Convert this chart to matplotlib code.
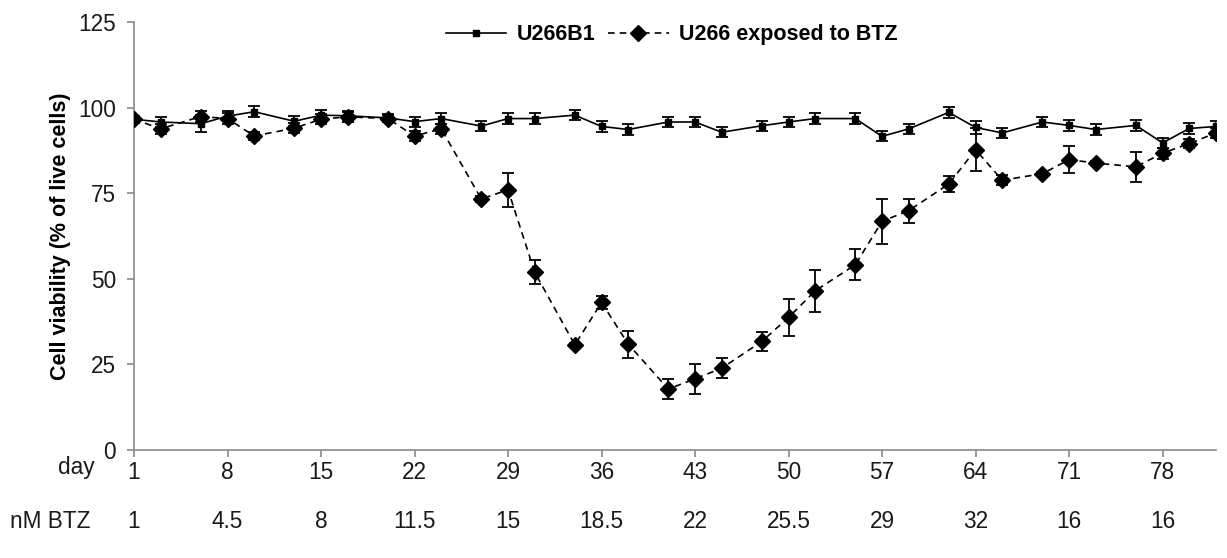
import matplotlib.pyplot as plt
from matplotlib.transforms import blended_transform_factory

plt.rcParams["font.family"] = ["Liberation Sans", "DejaVu Sans"]

DAYS = [1, 3, 6, 8, 10, 13, 15, 17, 20, 22, 24, 27, 29, 31, 34, 36, 38, 41,
        43, 45, 48, 50, 52, 55, 57, 59, 62, 64, 66, 69, 71, 73, 76, 78, 80, 82]

U266B1 = [96.6, 95.8, 95.3, 97.5, 98.8, 96.0, 97.8, 97.6, 97.0, 95.9, 96.8, 94.6,
          96.8, 96.8, 97.8, 94.5, 93.6, 95.8, 95.8, 92.8, 94.7, 95.8, 96.8, 96.8,
          91.6, 93.8, 98.6, 94.2, 92.6, 95.8, 94.8, 93.6, 94.8, 89.7, 93.9, 94.5]
U266B1_ERR = [1.0, 1.5, 2.5, 1.5, 1.6, 1.5, 1.5, 1.5, 1.2, 1.5, 1.5, 1.5,
              1.5, 1.5, 1.5, 1.5, 1.5, 1.5, 1.5, 1.5, 1.5, 1.5, 1.5, 1.5,
              1.5, 1.5, 1.5, 1.8, 1.5, 1.5, 1.5, 1.5, 1.5, 1.5, 1.5, 1.5]

BTZ = [96.6, 93.8, 97.4, 96.8, 91.7, 94.0, 96.6, 97.3, 96.8, 91.7, 93.8, 73.3,
       76.0, 51.9, 30.7, 43.1, 30.9, 17.8, 20.8, 23.9, 31.7, 38.7, 46.5, 54.1,
       66.8, 69.9, 77.7, 87.7, 78.8, 80.7, 84.8, 83.8, 82.7, 86.7, 89.5, 92.6]
BTZ_ERR = [1.0, 1.5, 1.5, 1.5, 1.2, 1.5, 1.5, 1.5, 1.0, 1.5, 1.5, 1.0,
           5.0, 3.5, 0.5, 1.9, 4.0, 2.8, 4.4, 3.0, 2.9, 5.4, 6.1, 4.5,
           6.5, 3.5, 2.3, 6.2, 1.5, 0.5, 4.0, 0.5, 4.3, 1.6, 1.2, 1.5]

TICK_DAYS = [1, 8, 15, 22, 29, 36, 43, 50, 57, 64, 71, 78]
NM_BTZ = ["1", "4.5", "8", "11.5", "15", "18.5", "22", "25.5", "29", "32", "16", "16"]

FS = 16.3
SPINE = "#8a8a8a"
TEXT = "#1a1a1a"

fig = plt.figure(figsize=(12.27, 5.58), dpi=100)
ax = fig.add_axes([134 / 1227, 1 - 450 / 558, (1216 - 134) / 1227, (450 - 22) / 558])

# error bars drawn on their own so the legend keeps plain line handles
ax.errorbar(DAYS, U266B1, yerr=U266B1_ERR, fmt="none", ecolor="black",
            capsize=4.5, capthick=1.3, elinewidth=1.3, zorder=3)
ax.errorbar(DAYS, BTZ, yerr=BTZ_ERR, fmt="none", ecolor="black",
            capsize=4.5, capthick=1.3, elinewidth=1.3, zorder=4)
ax.plot(DAYS, U266B1, color="black", lw=1.2, marker="s", ms=4.5,
        label="U266B1", zorder=3)
ax.plot(DAYS, BTZ, color="black", lw=1.2, ls=(0, (4, 3)), marker="D", ms=8,
        label="U266 exposed to BTZ", zorder=4)

ax.set_xlim(1, 82)
ax.set_ylim(0, 125)
ax.set_yticks([0, 25, 50, 75, 100, 125])
ax.set_xticks(TICK_DAYS)
ax.set_xticklabels([str(d) for d in TICK_DAYS])
ax.tick_params(axis="both", labelsize=FS, color=SPINE, width=1.2, length=5,
               labelcolor=TEXT)
ax.tick_params(axis="y", pad=8)
ax.tick_params(axis="x", pad=3)
for side in ("top", "right"):
    ax.spines[side].set_visible(False)
for side in ("left", "bottom"):
    ax.spines[side].set_color(SPINE)
    ax.spines[side].set_linewidth(1.2)

ax.set_ylabel("Cell viability (% of live cells)", fontsize=15.5, fontweight="bold", labelpad=5)

trans = blended_transform_factory(ax.transData, ax.transAxes)
for d, nm in zip(TICK_DAYS, NM_BTZ):
    ax.text(d, -0.168, nm, transform=trans, ha="center", va="center",
            fontsize=FS, color=TEXT)
ax.text(-0.036, -0.041, "day", transform=ax.transAxes, ha="right", va="center",
        fontsize=FS, color=TEXT)
ax.text(-0.04, -0.168, "nM BTZ", transform=ax.transAxes, ha="right", va="center",
        fontsize=FS, color=TEXT)

ax.legend(loc="center", bbox_to_anchor=(0.497, 0.97), ncol=2, frameon=False,
          handlelength=2.8, handletextpad=0.5, columnspacing=0.6,
          prop={"size": 15.5, "weight": "bold"})

fig.savefig("out.png", dpi=100)
